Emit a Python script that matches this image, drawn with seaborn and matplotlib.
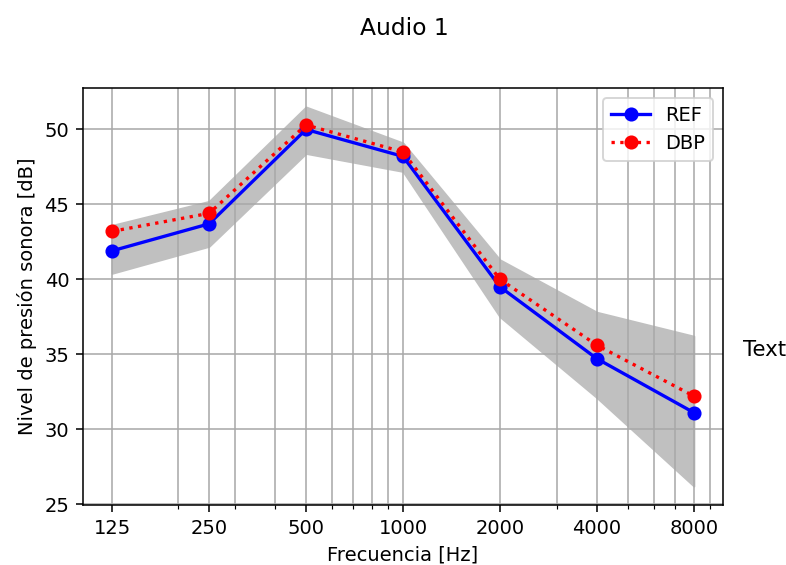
import matplotlib
matplotlib.use('AGG')
import matplotlib.pyplot as plt
import matplotlib.ticker as mticker
import seaborn as sns
import pandas as pd

freqs = [125, 250, 500, 1000, 2000, 4000, 8000]
freq_labels = ["125", "250", "500", "1000", "2000", "4000", "8000"]
ref_db = [41.9, 43.7, 50.0, 48.2, 39.5, 34.7, 31.1]
dbp_db = [43.2, 44.4, 50.3, 48.5, 40.0, 35.6, 32.2]
band_low = [40.4, 42.2, 48.4, 47.2, 37.5, 32.1, 26.2]
band_high = [43.6, 45.2, 51.5, 49.1, 41.3, 37.8, 36.2]

df = pd.DataFrame({"freq": freqs, "REF": ref_db, "DBP": dbp_db})

plt.rcParams['font.family'] = ['DejaVu Sans']
fig = plt.figure(figsize=[786 / 140, 565 / 140], dpi=140)
ax = fig.add_axes([0.1056, 0.1062, 0.8142, 0.738])

ax.fill_between(freqs, band_low, band_high, color="silver")
sns.lineplot(data=df, x="freq", y="REF", ax=ax, color="b", linestyle="-",
             marker="o", markersize=6.5, markeredgecolor="b", linewidth=1.7,
             label="REF")
sns.lineplot(data=df, x="freq", y="DBP", ax=ax, color="r", linestyle=":",
             marker="o", markersize=6.5, markeredgecolor="r", linewidth=1.7,
             label="DBP")

ax.set_xscale("log")
ax.set_xticks(freqs)
ax.set_xticklabels(freq_labels)
ax.xaxis.set_minor_formatter(mticker.NullFormatter())
ax.grid(which="both", color="#a8a8a8")
ax.set_xlabel("Frecuencia [Hz]")
ax.set_ylabel("Nivel de presión sonora [dB]")
ax.legend(loc="upper right")

fig.text(0.514, 0.95, "Audio 1", ha="center", va="center", fontsize=12)
fig.text(0.945, 0.38, "Text", ha="left", va="center", fontsize=11)

fig.savefig("out.png", dpi=140)
